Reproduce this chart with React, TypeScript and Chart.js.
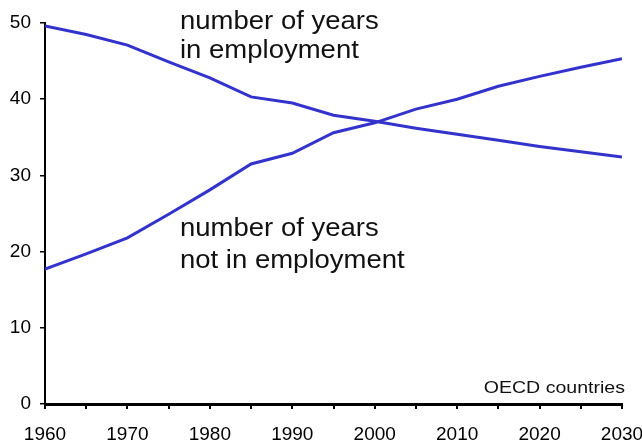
import React, { useEffect, useRef } from "react";
import { Chart, registerables } from "chart.js";

Chart.register(...registerables);

const years = [1960, 1965, 1970, 1975, 1980, 1985, 1990, 1995, 2000, 2005, 2010, 2015, 2020, 2025, 2030];
const inEmployment = [49.6, 48.5, 47.1, 44.9, 42.8, 40.3, 39.5, 37.9, 37.1, 36.2, 35.4, 34.6, 33.8, 33.1, 32.4];
const notInEmployment = [17.7, 19.7, 21.8, 24.9, 28.1, 31.5, 32.9, 35.6, 36.9, 38.7, 40.0, 41.7, 43.0, 44.2, 45.3];
const xTickLabels = [1960, 1970, 1980, 1990, 2000, 2010, 2020, 2030];
const yTicks = [0, 10, 20, 30, 40, 50];
const labelInEmployment = ["number of years", "in employment"];
const labelNotInEmployment = ["number of years", "not in employment"];
const noteText = "OECD countries";

const FONT = "'Liberation Sans', Arial, Helvetica, sans-serif";
const LINE_COLOR = "#3333cc";

const annotationPlugin = {
  id: "annotations",
  afterDraw(chart: any) {
    const ctx = chart.ctx as CanvasRenderingContext2D;
    ctx.save();
    ctx.fillStyle = "#111";
    ctx.textBaseline = "alphabetic";
    const drawLines = (lines: string[], x: number, ys: number[], size: number, sx: number, align: CanvasTextAlign) => {
      ctx.font = `${size}px ${FONT}`;
      lines.forEach((t, i) => {
        ctx.save();
        ctx.translate(x, ys[i]);
        ctx.scale(sx, 1);
        ctx.textAlign = align;
        ctx.fillText(t, 0, 0);
        ctx.restore();
      });
    };
    drawLines(labelInEmployment, 180, [29, 58], 25, 1.1, "left");
    drawLines(labelNotInEmployment, 180, [236, 268], 25, 1.1, "left");
    drawLines([noteText], 625, [393], 17, 1.15, "right");
    ctx.restore();
  },
};

export default function App() {
  const ref = useRef<HTMLCanvasElement | null>(null);
  useEffect(() => {
    if (!ref.current) return;
    const chart = new Chart(ref.current, {
      type: "line",
      data: {
        datasets: [
          {
            data: years.map((x, i) => ({ x, y: inEmployment[i] })),
            borderColor: LINE_COLOR,
            borderWidth: 3,
            pointRadius: 0,
            tension: 0,
            fill: false,
          },
          {
            data: years.map((x, i) => ({ x, y: notInEmployment[i] })),
            borderColor: LINE_COLOR,
            borderWidth: 3,
            pointRadius: 0,
            tension: 0,
            fill: false,
          },
        ],
      },
      options: {
        animation: false,
        responsive: false,
        devicePixelRatio: 1,
        layout: { padding: { top: 23, right: 20, left: 0, bottom: 0 } },
        plugins: { legend: { display: false }, tooltip: { enabled: false } },
        scales: {
          x: {
            type: "linear",
            min: 1960,
            max: 2030,
            afterFit: (s: any) => {
              s.height = 42;
              s.paddingLeft = 0;
              s.paddingRight = 0;
            },
            afterBuildTicks: (s: any) => {
              s.ticks = years.map((v) => ({ value: v }));
            },
            ticks: {
              autoSkip: false,
              maxRotation: 0,
              padding: 14,
              color: "#000",
              font: { family: FONT, size: 19 },
              callback: (v: any) => (xTickLabels.includes(Number(v)) ? String(v) : ""),
            },
            grid: { drawOnChartArea: false, drawTicks: true, tickLength: 5, color: "#000", lineWidth: 2 },
            border: { color: "#000", width: 3 },
          },
          y: {
            type: "linear",
            min: 0,
            max: 50,
            afterFit: (s: any) => {
              s.width = 45;
              s.paddingTop = 0;
              s.paddingBottom = 0;
            },
            afterBuildTicks: (s: any) => {
              s.ticks = yTicks.map((v) => ({ value: v }));
            },
            ticks: {
              padding: 9,
              color: "#000",
              font: { family: FONT, size: 19 },
            },
            grid: { drawOnChartArea: false, drawTicks: true, tickLength: 5, color: "#000", lineWidth: 1.5 },
            border: { color: "#000", width: 2 },
          },
        },
      },
      plugins: [annotationPlugin],
    });
    return () => chart.destroy();
  }, []);
  return (
    <canvas
      ref={ref}
      width={642}
      height={446}
      style={{ position: "fixed", left: 0, top: 0, width: 642, height: 446, background: "#fff" }}
    />
  );
}
